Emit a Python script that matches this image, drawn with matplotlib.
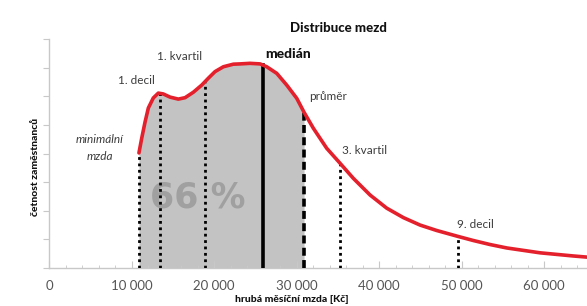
import numpy as np
import matplotlib
matplotlib.use('Agg')
import matplotlib.pyplot as plt
from matplotlib.ticker import MultipleLocator, FuncFormatter

# wage distribution curve (CZK, relative frequency)
wage = [10900, 11240, 11640, 12040, 12640, 13250, 13850, 14670, 15670, 16490,
        17490, 18510, 19310, 20120, 21130, 22340, 23150, 24360, 25580, 26390,
        27600, 28810, 30020, 30910, 32040, 33660, 35270, 36890, 38910, 40930,
        42950, 44970, 46990, 48610, 49610, 51430, 53450, 55480, 59520, 63550,
        65200]
freq = [4.02, 4.54, 5.10, 5.59, 5.94, 6.11, 6.08, 5.97, 5.90, 5.95,
        6.14, 6.39, 6.63, 6.86, 7.03, 7.12, 7.13, 7.15, 7.13, 7.03,
        6.80, 6.39, 5.93, 5.44, 4.88, 4.18, 3.66, 3.13, 2.55, 2.09,
        1.76, 1.50, 1.31, 1.18, 1.10, 0.96, 0.82, 0.70, 0.53, 0.42,
        0.38]

min_wage = 10900
decile1 = 13450
quartile1 = 18900
median = 25950
mean = 30910
quartile3 = 35270
decile9 = 49610

W, H = 587, 306
TXT = '#3c3c3c'
RED = '#e3202c'

plt.rcParams['font.family'] = ['Lato', 'DejaVu Sans']

fig = plt.figure(figsize=(W / 100, H / 100), dpi=100)
ax = fig.add_axes([49 / W, (H - 268) / H, (W - 49) / W, 229 / H])


def px(x, y):
    return x / W, 1 - y / H


wage = np.array(wage)
freq = np.array(freq)

# shaded area below the mean
mask = wage <= mean
ax.fill_between(wage[mask], 0, freq[mask], color='#c3c3c3', lw=0, zorder=1)

ax.text(18050, 2.48, '66 %', ha='center', va='center', family='DejaVu Sans',
        fontsize=25, fontweight='bold', color='#a0a0a0', zorder=2)


def height(x):
    return np.interp(x, wage, freq)


for x in [min_wage, decile1, quartile1, quartile3, decile9]:
    ax.plot([x, x], [0, height(x)], color='black', lw=2, ls=(0, (1, 1.3)), zorder=3)
ax.plot([median, median], [0, height(median)], color='black', lw=2.6, zorder=3)
ax.plot([mean, mean], [0, height(mean)], color='black', lw=2.6, ls=(0, (2.2, 1.2)), zorder=3)

ax.plot(wage, freq, color=RED, lw=2.6, solid_joinstyle='round', solid_capstyle='round', zorder=4)

ax.set_xlim(0, 65200)
ax.set_ylim(0, 8)
for s in ['top', 'right']:
    ax.spines[s].set_visible(False)
for s in ['left', 'bottom']:
    ax.spines[s].set_color('#c8c8c8')
    ax.spines[s].set_linewidth(1)

ax.xaxis.set_major_locator(MultipleLocator(10000))
ax.xaxis.set_minor_locator(MultipleLocator(2000))
ax.xaxis.set_major_formatter(FuncFormatter(lambda v, p: f'{int(v):,}'.replace(',', ' ')))
ax.tick_params(axis='x', which='major', direction='in', length=5, color='#c8c8c8',
               labelsize=9.5, labelcolor='#555555', pad=9)
ax.tick_params(axis='x', which='minor', direction='in', length=2.5, color='#c8c8c8')
ax.yaxis.set_major_locator(MultipleLocator(1))
ax.tick_params(axis='y', direction='out', length=4, color='#c8c8c8', labelleft=False)

# labels
fig.text(*px(338, 28), 'Distribuce mezd', ha='center', va='center',
         fontsize=9.5, fontweight='black', color='#111111')
fig.text(*px(265, 54), 'medián', ha='left', va='center',
         fontsize=10, fontweight='black', color='#111111')
fig.text(*px(157, 57), '1. kvartil', ha='left', va='center', fontsize=8.5, color=TXT)
fig.text(*px(118, 81), '1. decil', ha='left', va='center', fontsize=8.5, color=TXT)
fig.text(*px(100, 140), 'minimální', ha='center', va='center', fontsize=8.5,
         style='italic', color=TXT)
fig.text(*px(100, 157), 'mzda', ha='center', va='center', fontsize=8.5,
         style='italic', color=TXT)
fig.text(*px(309, 97), 'průměr', ha='left', va='center', fontsize=8.5, color=TXT)
fig.text(*px(342, 150), '3. kvartil', ha='left', va='center', fontsize=8.5, color=TXT)
fig.text(*px(457, 225), '9. decil', ha='left', va='center', fontsize=8.5, color=TXT)

fig.text(*px(35, 167), 'četnost zaměstnanců', ha='center', va='center', rotation=90,
         fontsize=7.5, fontweight='black', color='#111111')
fig.text(*px(292, 299), 'hrubá měsíční mzda [Kč]', ha='center', va='center',
         fontsize=7.5, fontweight='black', color='#111111')

fig.savefig('out.png', dpi=100, facecolor='white')
